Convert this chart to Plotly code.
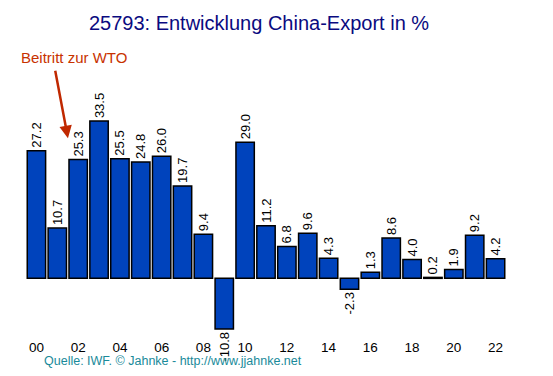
import plotly.graph_objects as go

years = list(range(2000, 2023))
growth = [27.2, 10.7, 25.3, 33.5, 25.5, 24.8, 26.0, 19.7, 9.4, -10.8, 29.0, 11.2,
          6.8, 9.6, 4.3, -2.3, 1.3, 8.6, 4.0, 0.2, 1.9, 9.2, 4.2]
tick_years = years[::2]
tick_labels = [str(y)[2:] for y in tick_years]

title_text = "25793: Entwicklung China-Export in %"
note_text = "Beitritt zur WTO"
source_text = "Quelle: IWF. \u00a9 Jahnke - http://www.jjahnke.net"

FONT = "Liberation Sans, Arial, sans-serif"
OFF = 8  # page body margin

fig = go.Figure()
fig.add_trace(go.Bar(
    x=years, y=growth,
    marker=dict(color="#0043BC", line=dict(color="black", width=1.5)),
    width=0.88,
    texttemplate="%{y:.1f}", textposition="outside", textangle=-90,
    textfont=dict(size=13, color="black", family=FONT),
    constraintext="none", cliponaxis=False,
))

L, R = 26 - OFF, 47 + OFF
T, B = 100 - OFF, 39.4 + OFF
fig.update_layout(
    width=553, height=376,
    margin=dict(l=L, r=R, t=T, b=B, pad=0),
    paper_bgcolor="white", plot_bgcolor="white",
    showlegend=False,
    font=dict(family=FONT),
    title=dict(text=title_text, x=(259 - OFF) / 553, xanchor="center",
               y=1 - (23 - OFF) / 376, yanchor="middle",
               font=dict(size=20, color="#0A0A80", family=FONT)),
    xaxis=dict(range=[1999.5, 2022.5], tickvals=tick_years, ticktext=tick_labels,
               showgrid=False, zeroline=False, showline=False, ticks="",
               tickfont=dict(size=13.5, color="black")),
    yaxis=dict(range=[-12.5, 38], visible=False, showgrid=False, zeroline=False),
)

pw = 553 - L - R
ph = 376 - T - B
bottom = 376 - B  # figure-pixel y of plot bottom


def px_x(wx):
    return (wx - OFF - L) / pw


def px_y(wy):
    return (bottom - (wy - OFF)) / ph


fig.add_annotation(
    x=2001.51, y=29.85, xref="x", yref="y", text="", showarrow=True,
    ax=-13, ay=-69, arrowhead=2, arrowsize=1, arrowwidth=2.5, arrowcolor="#C02800",
)
fig.add_annotation(
    x=px_x(19), y=px_y(58), xref="paper", yref="paper",
    xanchor="left", yanchor="middle", text=note_text, showarrow=False,
    font=dict(size=15, color="#C83200", family=FONT),
)
fig.add_annotation(
    x=px_x(42), y=px_y(361), xref="paper", yref="paper",
    xanchor="left", yanchor="middle", text=source_text, showarrow=False,
    font=dict(size=12.5, color="#1A8A9A", family=FONT),
)

fig.write_html("out.html")
